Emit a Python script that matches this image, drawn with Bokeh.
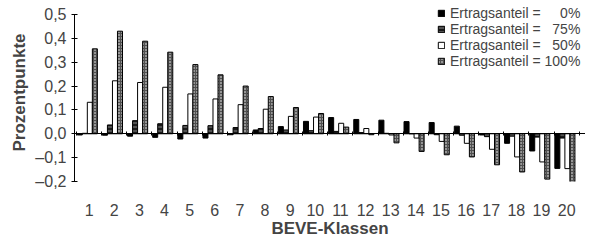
from bokeh.plotting import figure
from bokeh.models import (ColumnDataSource, FixedTicker, LinearAxis, Range1d,
                          Legend, LegendItem)
from bokeh.embed import file_html
from bokeh.resources import INLINE

# ---- data -----------------------------------------------------------------
categories = [str(i) for i in range(1, 21)]
series_names = ["Ertragsanteil = \u2007\u20070%", "Ertragsanteil = \u200775%",
                "Ertragsanteil = \u200750%", "Ertragsanteil = 100%"]
v0 = [-0.005, -0.006, -0.010, -0.015, -0.022, -0.018, -0.004, 0.016, 0.030, 0.052,
      0.068, 0.060, 0.057, 0.051, 0.047, 0.032, -0.005, -0.040, -0.072, -0.145]
v75 = [0.002, 0.037, 0.055, 0.042, 0.035, 0.034, 0.026, 0.022, 0.016, 0.013,
       0.010, 0.005, 0.002, 0.000, -0.004, -0.006, -0.012, -0.010, -0.014, -0.018]
v50 = [0.132, 0.222, 0.215, 0.195, 0.167, 0.146, 0.122, 0.103, 0.073, 0.070,
       0.044, 0.022, -0.005, -0.018, -0.032, -0.040, -0.065, -0.097, -0.118, -0.146]
v100 = [0.356, 0.430, 0.388, 0.342, 0.290, 0.247, 0.200, 0.156, 0.110, 0.085,
        0.028, -0.004, -0.038, -0.074, -0.088, -0.097, -0.130, -0.160, -0.190, -0.205]
y_ticks = [-0.2, -0.1, 0.0, 0.1, 0.2, 0.3, 0.4, 0.5]
y_labels = ["\u20130,2", "\u20130,1", "0,0", "0,1", "0,2", "0,3", "0,4", "0,5"]

FONT = "Liberation Sans"
pos = list(range(1, len(categories) + 1))

p = figure(output_backend="svg", toolbar_location=None,
           frame_width=511, frame_height=178,
           x_range=Range1d(0.42, 20.75), y_range=Range1d(-0.2, 0.546),
           x_axis_location=None, y_axis_location=None,
           min_border_left=74, min_border_right=0, min_border_top=3,
           min_border_bottom=10)
p.outline_line_color = None
p.xgrid.visible = False
p.ygrid.visible = False

styles = [
    dict(fill_color="black"),
    dict(fill_color="#1a1a1a", hatch_pattern="horizontal_line", hatch_color="#8a8a8a",
         hatch_scale=4, hatch_weight=1),
    dict(fill_color="white"),
    dict(fill_color="#505050", hatch_pattern="dot", hatch_color="white",
         hatch_scale=3, hatch_weight=1),
]
offsets = [-0.37, -0.17, 0.03, 0.23]
renderers = []
for vals, off, st in zip([v0, v75, v50, v100], offsets, styles):
    src = ColumnDataSource(dict(x=[q + off for q in pos], top=vals))
    r = p.vbar(x="x", top="top", bottom=0, width=0.2, source=src,
               line_color="black", line_width=1, **st)
    renderers.append(r)

# y axis
yax = LinearAxis(ticker=FixedTicker(ticks=y_ticks), bounds=(y_ticks[0], y_ticks[-1]),
                 major_label_overrides=dict(zip(y_ticks, y_labels)))
yax.axis_label = "Prozentpunkte"
yax.axis_label_text_font = FONT
yax.axis_label_text_font_style = "bold"
yax.axis_label_text_font_size = "17px"
yax.axis_label_standoff = 3
yax.major_label_text_font = FONT
yax.major_label_text_font_size = "16px"
yax.major_tick_in = 3
yax.major_tick_out = 3
yax.minor_tick_line_color = None
yax.major_label_standoff = 5
yax.axis_line_color = "black"
p.add_layout(yax, "left")

# zero line with ticks between groups (drawn at y = 0), no labels
bounds = [q - 0.5 for q in pos] + [pos[-1] + 0.5]
zax = LinearAxis(ticker=FixedTicker(ticks=bounds), fixed_location=0)
zax.major_label_text_color = None
zax.major_label_text_font_size = "1px"
zax.major_label_standoff = 0
zax.major_tick_in = 2
zax.major_tick_out = 2
zax.minor_tick_line_color = None
zax.axis_line_color = "black"
p.add_layout(zax, "below")

# category labels at bottom
xax = LinearAxis(ticker=FixedTicker(ticks=pos),
                 major_label_overrides=dict(zip(pos, categories)))
xax.axis_line_color = None
xax.major_tick_line_color = None
xax.minor_tick_line_color = None
xax.major_label_standoff = 16
xax.major_label_text_font = FONT
xax.major_label_text_font_size = "16px"
xax.axis_label = "BEVE-Klassen"
xax.axis_label_text_font = FONT
xax.axis_label_text_font_style = "bold"
xax.axis_label_text_font_size = "17px"
xax.axis_label_standoff = 0
p.add_layout(xax, "below")

legend = Legend(items=[LegendItem(label=n, renderers=[r]) for n, r in zip(series_names, renderers)],
                location=(363, 112))
legend.background_fill_alpha = 0
legend.border_line_color = None
legend.label_text_font = FONT
legend.label_text_font_size = "14px"
legend.glyph_width = 8
legend.glyph_height = 8
legend.label_standoff = 5
legend.label_height = 13
legend.spacing = 0
legend.padding = 0
legend.margin = 0
p.add_layout(legend, "center")

open("out.html", "w").write(file_html(p, INLINE))
